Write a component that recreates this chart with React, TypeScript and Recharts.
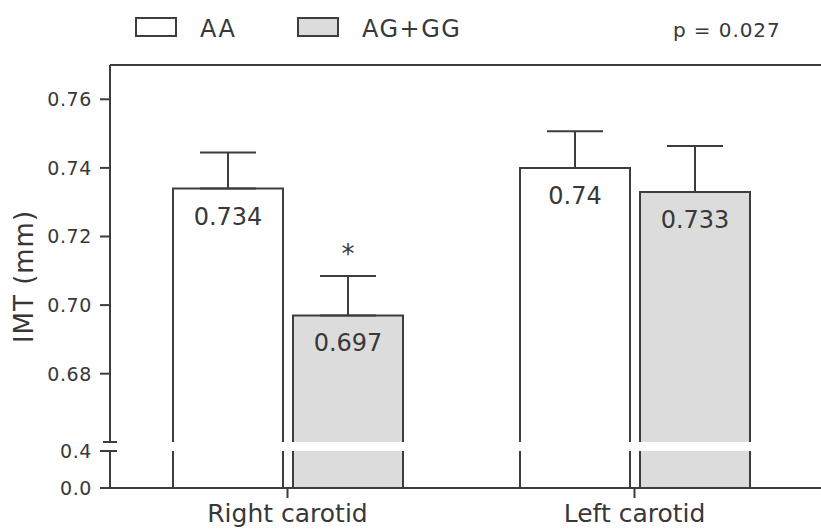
import React from "react";
import {
  BarChart,
  Bar,
  XAxis,
  YAxis,
  ErrorBar,
  LabelList,
  Legend,
  ReferenceLine,
} from "recharts";

const CATEGORIES = ["Right carotid", "Left carotid"];
const AA_MEAN = [0.734, 0.74];
const AA_SE = [0.0105, 0.0107];
const AG_MEAN = [0.697, 0.733];
const AG_SE = [0.0115, 0.0134];
const SIG_MARK = ["*", ""];
const Y_TICK_LABELS = ["0.0", "0.4", "0.68", "0.70", "0.72", "0.74", "0.76"];
const P_VALUE = "p = 0.027";

const LINE = "#3d3d3d";
const TEXT = "#383838";
const GRAY = "#dcdcdc";
const FONT = '"DejaVu Sans", Verdana, sans-serif';

// broken y axis: 0–0.4 squeezed at the bottom, 0.68–0.77 stretched above the break
const PLOT_H = 423;
const LOW_MAX = 0.4;
const LOW_H = 37;
const BREAK_H = 9;
const TOP_V = 0.77;
const SLOPE = 3430; // units per mm in the upper part

const tf = (v: number) =>
  v <= LOW_MAX ? (v / LOW_MAX) * LOW_H : PLOT_H - (TOP_V - v) * SLOPE;

const Y_TICKS = Y_TICK_LABELS.map((s) => tf(parseFloat(s)));

const data = CATEGORIES.map((name, i) => ({
  name,
  aa: tf(AA_MEAN[i]),
  ag: tf(AG_MEAN[i]),
  aaErr: [0, AA_SE[i] * SLOPE],
  agErr: [0, AG_SE[i] * SLOPE],
  aaLabel: String(AA_MEAN[i]),
  agLabel: String(AG_MEAN[i]),
  sig: SIG_MARK[i],
}));

const TICK_SIZE = 10;
const TICK_MARGIN = 8;

function BrokenBar(props: any) {
  const { x, y, width, height, fill, k, payload } = props;
  if (!height) return null;
  const ppu = height / payload[k];
  const bottom = y + height;
  const gapLow = bottom - LOW_H * ppu;
  const gapHigh = bottom - (LOW_H + BREAK_H) * ppu;
  return (
    <g>
      <rect x={x} y={y} width={width} height={gapHigh - y} fill={fill} />
      <rect x={x} y={gapLow} width={width} height={bottom - gapLow} fill={fill} />
      <path
        d={`M${x},${gapHigh}V${y}H${x + width}V${gapHigh}M${x},${gapLow}V${bottom}M${x + width},${gapLow}V${bottom}`}
        fill="none"
        stroke={LINE}
        strokeWidth={2}
      />
    </g>
  );
}

function YTick(props: any) {
  const { x, y, payload } = props;
  const idx = Y_TICKS.indexOf(payload.value);
  const ax = x + TICK_SIZE + TICK_MARGIN;
  return (
    <g>
      <text
        x={x}
        y={y}
        dy="0.36em"
        textAnchor="end"
        fill={TEXT}
        fontSize={19}
        letterSpacing={0.6}
        fontFamily={FONT}
      >
        {Y_TICK_LABELS[idx]}
      </text>
      {idx === 1 && (
        <g>
          <rect x={ax - 3} y={y - BREAK_H + 1} width={6} height={BREAK_H - 2} fill="#fff" />
          <line x1={ax - 7} x2={ax + 7} y1={y - BREAK_H} y2={y - BREAK_H} stroke={LINE} strokeWidth={2} />
          <line x1={ax} x2={ax + 7} y1={y} y2={y} stroke={LINE} strokeWidth={2} />
        </g>
      )}
    </g>
  );
}

const renderLegend = (props: any) => {
  const items = props.payload || [];
  return (
    <svg width={821} height={50} style={{ display: "block" }}>
      {items.map((it: any, i: number) => {
        const x0 = 136 + i * 162;
        return (
          <g key={it.value}>
            <rect x={x0} y={18} width={40} height={18} fill={it.color} stroke={LINE} strokeWidth={2} />
            <text x={x0 + 64} y={37} fill={TEXT} fontSize={24} letterSpacing={1.5} fontFamily={FONT}>
              {it.value}
            </text>
          </g>
        );
      })}
      <text x={673} y={37} fill={TEXT} fontSize={20} letterSpacing={0.9} fontFamily={FONT}>
        {P_VALUE}
      </text>
    </svg>
  );
};

const yLabel = (props: any) => {
  const vb = props.viewBox || {};
  const cx = (vb.x || 0) + 33;
  const cy = vb.y + vb.height / 2;
  return (
    <text
      x={cx}
      y={cy}
      transform={`rotate(-90 ${cx} ${cy})`}
      textAnchor="middle"
      fill={TEXT}
      fontSize={26}
      letterSpacing={1}
      fontFamily={FONT}
    >
      IMT (mm)
    </text>
  );
};

export default function App() {
  return (
    <div
      style={{
        position: "absolute",
        left: 0,
        top: 0,
        width: 821,
        height: 530,
        background: "#fff",
        fontFamily: FONT,
      }}
    >
      <BarChart
        width={821}
        height={530}
        data={data}
        margin={{ top: 65, right: 0, left: 0, bottom: 0 }}
        barGap={10}
      >
        <XAxis
          dataKey="name"
          interval={0}
          height={42}
          tickSize={10}
          tickMargin={6}
          padding={{ left: 4, right: 13 }}
          axisLine={{ stroke: LINE, strokeWidth: 2 }}
          tickLine={{ stroke: LINE, strokeWidth: 2 }}
          tick={{ fontSize: 25, fill: TEXT, fontFamily: FONT }}
        />
        <YAxis
          type="number"
          width={110}
          domain={[0, PLOT_H]}
          ticks={Y_TICKS}
          interval={0}
          tickSize={TICK_SIZE}
          tickMargin={TICK_MARGIN}
          axisLine={{ stroke: LINE, strokeWidth: 2 }}
          tickLine={{ stroke: LINE, strokeWidth: 2 }}
          tick={<YTick />}
          label={{ content: yLabel }}
        />
        <Legend
          layout="horizontal"
          verticalAlign="middle"
          align="center"
          wrapperStyle={{ top: 0, left: 0, width: 821, height: 50 }}
          content={renderLegend}
        />
        <ReferenceLine y={PLOT_H} stroke={LINE} strokeWidth={2} />
        <Bar
          dataKey="aa"
          name="AA"
          fill="#ffffff"
          barSize={110}
          isAnimationActive={false}
          shape={(p: any) => <BrokenBar {...p} k="aa" />}
        >
          <ErrorBar dataKey="aaErr" width={28} stroke={LINE} strokeWidth={2} direction="y" />
          <LabelList
            dataKey="aaLabel"
            position="insideTop"
            offset={19}
            fill={TEXT}
            fontSize={24}
            fontFamily={FONT}
          />
        </Bar>
        <Bar
          dataKey="ag"
          name="AG+GG"
          fill={GRAY}
          barSize={110}
          isAnimationActive={false}
          shape={(p: any) => <BrokenBar {...p} k="ag" />}
        >
          <ErrorBar dataKey="agErr" width={28} stroke={LINE} strokeWidth={2} direction="y" />
          <LabelList
            dataKey="agLabel"
            position="insideTop"
            offset={19}
            fill={TEXT}
            fontSize={24}
            fontFamily={FONT}
          />
          <LabelList
            dataKey="sig"
            position="top"
            offset={52}
            fill={TEXT}
            fontSize={26}
            fontFamily={FONT}
          />
        </Bar>
      </BarChart>
    </div>
  );
}
